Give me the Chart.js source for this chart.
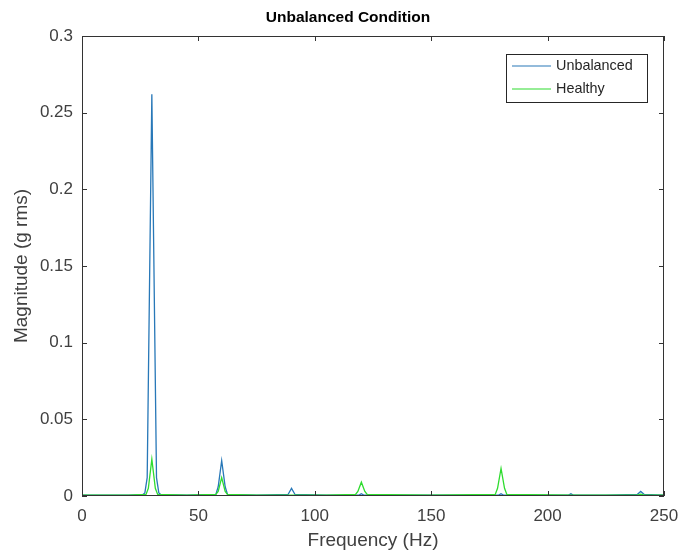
<!DOCTYPE html>
<html>
<head>
<meta charset="utf-8">
<script src="https://cdn.jsdelivr.net/npm/chart.js@4.4.0/dist/chart.umd.min.js"></script>
<style>
  html, body { margin: 0; padding: 0; background: #fff; }
  #wrap { width: 678px; height: 557px; }
</style>
</head>
<body>
<div id="wrap"><canvas id="fftChart" width="678" height="557"></canvas></div>
<script>
// spectrum (Hz, g rms)
const freqUnbalanced = [0, 10, 20, 26, 27, 28, 30, 32, 33, 34, 45, 57.5, 58.5, 60, 61.5, 62.5, 75,
  88.5, 90, 91.5, 105, 119, 120, 121, 150, 179, 180, 181, 195, 209, 210, 211, 225, 238.5, 240, 241.5, 250];
const magUnbalanced = [0.0006, 0.0005, 0.0006, 0.0008, 0.002, 0.012, 0.262, 0.012, 0.002, 0.0008, 0.0005, 0.001, 0.006, 0.023, 0.006, 0.001, 0.0005,
  0.001, 0.005, 0.001, 0.0005, 0.0006, 0.0015, 0.0006, 0.0005, 0.0006, 0.0015, 0.0006, 0.0005, 0.0006, 0.0014, 0.0006, 0.0005, 0.001, 0.003, 0.001, 0.0005];

const freqHealthy = [0, 10, 20, 27.5, 28.5, 30, 31.5, 32.5, 45, 57.5, 58.5, 60, 61.5, 62.5, 75, 90, 105,
  117.5, 118.5, 120, 121.5, 122.5, 150, 177.5, 178.5, 180, 181.5, 182.5, 210, 238.5, 240, 241.5, 250];
const magHealthy = [0.0005, 0.0005, 0.0005, 0.001, 0.005, 0.024, 0.005, 0.001, 0.0005, 0.001, 0.003, 0.012, 0.003, 0.001, 0.0005, 0.0006, 0.0005,
  0.001, 0.003, 0.009, 0.003, 0.001, 0.0005, 0.001, 0.005, 0.018, 0.005, 0.001, 0.0005, 0.0006, 0.0012, 0.0006, 0.0005];

const seriesNames = ["Unbalanced", "Healthy"];
const seriesColors = ["#2878b8", "#2edc2e"];
const xTicks = [0, 50, 100, 150, 200, 250];
const yTicks = [0, 0.05, 0.1, 0.15, 0.2, 0.25, 0.3];
const titleText = "Unbalanced Condition";

const axisColor = "#333333";
const textColor = "#404040";
const fontFamily = "'Liberation Sans', Arial, sans-serif";

function toPoints(xs, ys) {
  return xs.map((x, i) => ({ x: x, y: ys[i] }));
}

// title, box, inward ticks and legend in the matlab way
const matlabAxes = {
  id: "matlabAxes",
  afterDraw(chart) {
    const { ctx, chartArea: a, scales } = chart;
    const tl = 5;
    ctx.save();
    ctx.fillStyle = "#000";
    ctx.font = "bold 15.5px " + fontFamily;
    ctx.textAlign = "center";
    ctx.textBaseline = "middle";
    ctx.fillText(titleText, 348, 18);

    ctx.strokeStyle = axisColor;
    ctx.lineWidth = 1;
    ctx.strokeRect(a.left + 0.5, a.top + 0.5, a.right - a.left - 1, a.bottom - a.top - 1);
    ctx.beginPath();
    xTicks.forEach(v => {
      const px = Math.round(scales.x.getPixelForValue(v)) + 0.5;
      ctx.moveTo(px, a.bottom); ctx.lineTo(px, a.bottom - tl);
      ctx.moveTo(px, a.top); ctx.lineTo(px, a.top + tl);
    });
    yTicks.forEach(v => {
      const py = Math.round(scales.y.getPixelForValue(v)) + 0.5;
      ctx.moveTo(a.left, py); ctx.lineTo(a.left + tl, py);
      ctx.moveTo(a.right, py); ctx.lineTo(a.right - tl, py);
    });
    ctx.stroke();

    // legend
    const w = 141, h = 48;
    const lx = a.right - 17 - w, ly = a.top + 18;
    ctx.fillStyle = "#fff";
    ctx.fillRect(lx, ly, w, h);
    ctx.strokeStyle = "#262626";
    ctx.strokeRect(lx + 0.5, ly + 0.5, w, h);
    ctx.font = "14.4px " + fontFamily;
    ctx.textAlign = "left";
    ctx.textBaseline = "middle";
    chart.data.datasets.forEach((ds, i) => {
      const y = ly + 12 + i * 23;
      ctx.strokeStyle = ds.borderColor;
      ctx.lineWidth = 1.2;
      ctx.beginPath();
      ctx.moveTo(lx + 6, y); ctx.lineTo(lx + 45, y);
      ctx.stroke();
      ctx.fillStyle = "#262626";
      ctx.fillText(ds.label, lx + 50, y);
    });
    ctx.restore();
  }
};

const ctx = document.getElementById("fftChart").getContext("2d");
const fftChart = new Chart(ctx, {
  type: "line",
  data: {
    datasets: [
      {
        label: seriesNames[0],
        data: toPoints(freqUnbalanced, magUnbalanced),
        borderColor: seriesColors[0],
        borderWidth: 1.3,
        pointRadius: 0,
        tension: 0,
        order: 1
      },
      {
        label: seriesNames[1],
        data: toPoints(freqHealthy, magHealthy),
        borderColor: seriesColors[1],
        borderWidth: 1.3,
        pointRadius: 0,
        tension: 0,
        order: 0
      }
    ]
  },
  options: {
    responsive: false,
    animation: false,
    devicePixelRatio: 1,
    layout: { padding: { left: 0, right: 14, top: 36, bottom: 0 } },
    plugins: {
      legend: { display: false },
      tooltip: { enabled: false },
      title: { display: false }
    },
    scales: {
      x: {
        type: "linear",
        min: 0,
        max: 250,
        afterBuildTicks(s) { s.ticks = xTicks.map(v => ({ value: v })); },
        afterFit(s) { s.height = 61; s.paddingLeft = 0; s.paddingRight = 0; },
        ticks: {
          color: textColor,
          font: { family: fontFamily, size: 17 },
          padding: 10,
          maxRotation: 0,
          callback: v => String(v)
        },
        grid: { display: false, drawTicks: false },
        border: { display: false },
        title: {
          display: true,
          text: "Frequency (Hz)",
          color: textColor,
          font: { family: fontFamily, size: 19 },
          padding: { top: 0, bottom: 5 }
        }
      },
      y: {
        type: "linear",
        min: 0,
        max: 0.3,
        afterBuildTicks(s) { s.ticks = yTicks.map(v => ({ value: v })); },
        afterFit(s) { s.width = 82; s.paddingTop = 0; s.paddingBottom = 0; },
        ticks: {
          color: textColor,
          font: { family: fontFamily, size: 17 },
          padding: 9,
          callback: v => String(+v.toFixed(2))
        },
        grid: { display: false, drawTicks: false },
        border: { display: false },
        title: {
          display: true,
          text: "Magnitude (g rms)",
          color: textColor,
          font: { family: fontFamily, size: 19 },
          padding: { top: 10, bottom: 0 }
        }
      }
    }
  },
  plugins: [matlabAxes]
});
</script>
</body>
</html>
